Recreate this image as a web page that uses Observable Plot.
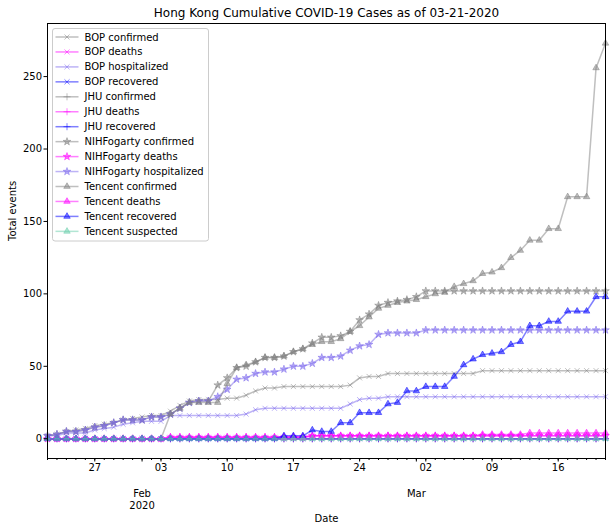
<!DOCTYPE html>
<html><head><meta charset="utf-8">
<script src="https://cdn.jsdelivr.net/npm/d3@7"></script>
<script src="https://cdn.jsdelivr.net/npm/@observablehq/plot@0.6"></script>
<style>
body{margin:0;background:#fff;}
svg{font-family:"DejaVu Sans",sans-serif;}
</style>
</head><body><div id="chart"></div>
<script>
// ---- data (day 0 = 2020-01-22 ... day 59 = 2020-03-21) ----
const startDate = "2020-01-22";
const titleText = "Hong Kong Cumulative COVID-19 Cases as of 03-21-2020";
const yLabel = "Total events";
const xLabel = "Date";
const yTicks = [0, 50, 100, 150, 200, 250];
const weekTickDates = ["2020-01-27","2020-02-03","2020-02-10","2020-02-17","2020-02-24","2020-03-02","2020-03-09","2020-03-16"];
const monthTickDates = ["2020-02-01","2020-03-01"];
const monthTickLabels = ["Feb\n2020","Mar"];

const bopConfirmed = [2,3,5,6,7,9,10,11,13,14, 15,16,16,19,23,26,27,27,27,28, 28,30,33,35,35,36,36,36,36,36, 36,36,37,42,43,43,45,45,45,45, 45,45,45,45,45,45,47,47,47,47, 47,47,47,47,47,47,47,47,47,47];
const bopDeaths = [0,0,0,0,0,0,0,0,0,0, 0,0,0,1,1,1,1,1,1,1, 1,1,1,1,1,1,1,1,2,2, 2,2,2,2,2,2,2,2,2,2, 2,2,2,2,2,2,2,2,2,2, 2,2,2,2,2,2,2,2,2,2];
const bopHospitalized = [2,2,4,4,4,6,7,8,10,11, 12,12,12,16,16,16,16,16,16,16, 16,17,20,21,21,21,21,21,21,21, 21,21,24,27,28,28,29,29,29,29, 29,29,29,29,29,29,29,29,29,29, 29,29,29,29,29,29,29,29,29,29];
const bopRecovered = [0,0,0,0,0,0,0,0,0,0, 0,0,0,0,0,0,0,0,0,0, 0,0,0,0,0,0,0,0,0,0, 0,0,0,0,0,0,0,0,0,0, 0,0,0,0,0,0,0,0,0,0, 0,0,0,0,0,0,0,0,0,0];
const jhuConfirmed = [0,0,0,0,0,0,0,0,0,0, 0,0,0,0,0,0,0,0,0,0, 0,0,0,0,0,0,0,0,0,0, 0,0,0,0,0,0,0,0,0,0, 0,0,0,0,0,0,0,0,0,0, 0,0,0,0,0,0,0,0,0,0];
const jhuDeaths = [0,0,0,0,0,0,0,0,0,0, 0,0,0,0,0,0,0,0,0,0, 0,0,0,0,0,0,0,0,0,0, 0,0,0,0,0,0,0,0,0,0, 0,0,0,0,0,0,0,0,0,0, 0,0,0,0,0,0,0,0,0,0];
const jhuRecovered = [0,0,0,0,0,0,0,0,0,0, 0,0,0,0,0,0,0,0,0,0, 0,0,0,0,0,0,0,0,0,0, 0,0,0,0,0,0,0,0,0,0, 0,0,0,0,0,0,0,0,0,0, 0,0,0,0,0,0,0,0,0,0];
const nihConfirmed = [2,3,5,5,6,8,9,11,13,13, 13,15,15,17,21,25,26,26,37,42, 49,50,53,56,56,57,60,62,66,70, 70,71,74,82,86,92,94,95,96,98, 102,102,102,102,102,102,102,102,102,102, 102,102,102,102,102,102,102,102,102,102];
const nihDeaths = [0,0,0,0,0,0,0,0,0,0, 0,0,0,1,1,1,1,1,1,1, 1,1,1,1,1,1,1,1,2,2, 2,2,2,2,2,2,2,2,2,2, 2,2,2,2,2,2,2,2,2,2, 2,2,2,2,2,2,2,2,2,2];
const nihHospitalized = [2,3,5,5,6,8,9,11,13,13, 13,15,15,17,21,25,26,26,29,34, 41,42,45,46,46,48,50,50,52,56, 56,57,61,64,65,72,73,73,73,73, 75,75,75,75,75,75,75,75,75,75, 75,75,75,75,75,75,75,75,75,75];
const tencentConfirmed = [0,0,0,0,0,0,0,0,0,0, 0,0,0,17,21,25,25,25,25,38, 49,51,53,56,56,57,60,62,65,67, 67,69,74,78,84,90,92,94,95,96, 98,100,101,105,107,109,114,115,118,125, 130,137,137,145,145,167,167,167,256,273];
const tencentDeaths = [0,0,0,0,0,0,0,0,0,0, 0,0,0,1,1,1,1,1,1,1, 1,1,1,1,1,1,1,1,2,2, 2,2,2,2,2,2,2,2,2,2, 2,2,2,2,2,2,3,3,3,3, 3,4,4,4,4,4,4,4,4,4];
const tencentRecovered = [0,0,0,0,0,0,0,0,0,0, 0,0,0,0,0,0,0,0,0,0, 0,0,0,0,0,2,2,2,6,5, 5,11,11,18,18,18,24,25,33,33, 36,36,36,43,51,55,58,59,60,65, 67,78,78,81,81,88,88,88,98,98];
const tencentSuspected = [0,0,0,0,0,0,0,0,0,0, 0,0,0,0,0,0,0,0,0,0, 0,0,0,0,0,0,0,0,0,0, 0,0,0,0,0,0,0,0,0,0, 0,0,0,0,0,0,0,0,0,0, 0,0,0,0,0,0,0,0,0,0];

const seriesNames = ["BOP confirmed","BOP deaths","BOP hospitalized","BOP recovered","JHU confirmed","JHU deaths","JHU recovered","NIHFogarty confirmed","NIHFogarty deaths","NIHFogarty hospitalized","Tencent confirmed","Tencent deaths","Tencent recovered","Tencent suspected"];
const seriesValues = [bopConfirmed,bopDeaths,bopHospitalized,bopRecovered,jhuConfirmed,jhuDeaths,jhuRecovered,nihConfirmed,nihDeaths,nihHospitalized,tencentConfirmed,tencentDeaths,tencentRecovered,tencentSuspected];

// ---- styles ----
const metricColor = {confirmed:"gray", deaths:"magenta", hospitalized:"mediumslateblue", recovered:"blue", suspected:"mediumaquamarine"};
const sourceSymbol = {BOP:"times", JHU:"plus", NIHFogarty:"star", Tencent:"triangle"};
const alpha = 0.5;
const R = 2.4;

const parse = d3.utcParse("%Y-%m-%d");
const t0 = parse(startDate);
const series = seriesNames.map((name, k) => {
  const [src, metric] = name.split(" ");
  return {
    name, color: metricColor[metric], symbol: sourceSymbol[src],
    data: seriesValues[k].map((v, i) => ({date: d3.utcDay.offset(t0, i), value: v}))
  };
});
const nDays = bopConfirmed.length;
const t1 = d3.utcDay.offset(t0, nDays - 1);
const dayTicks = d3.utcDay.range(t0, d3.utcDay.offset(t1, 1));
const weekTicks = weekTickDates.map(parse);
const months = monthTickDates.map((d, i) => ({date: parse(d), label: monthTickLabels[i]}));

const isStrokeSymbol = s => s === "times" || s === "plus";
const marks = [];
for (const s of series) {
  marks.push(Plot.line(s.data, {x: "date", y: "value", stroke: s.color, strokeOpacity: alpha, strokeWidth: 1.5}));
  if (isStrokeSymbol(s.symbol)) {
    marks.push(Plot.dot(s.data, {x: "date", y: "value", symbol: s.symbol, r: R, stroke: s.color, strokeOpacity: alpha, strokeWidth: 1, fill: "none"}));
  } else {
    marks.push(Plot.dot(s.data, {x: "date", y: "value", symbol: s.symbol, r: R, fill: s.color, fillOpacity: alpha, stroke: s.color, strokeOpacity: alpha, strokeWidth: 1}));
  }
}

const yMax = d3.max(seriesValues.flat());
const pad = yMax * 0.05;

const chart = Plot.plot({
  width: 612, height: 531,
  marginTop: 23, marginBottom: 73, marginLeft: 47, marginRight: 7,
  style: {fontFamily: "DejaVu Sans, sans-serif", fontSize: "10px", background: "white", color: "black", overflow: "visible"},
  x: {type: "utc", domain: [t0, t1]},
  y: {domain: [-pad, yMax + pad]},
  marks: [
    ...marks,
    Plot.frame({stroke: "black", strokeWidth: 1}),
    Plot.axisY({ticks: yTicks, tickSize: 3.5, tickPadding: 2, tickFormat: d => String(d), label: null, fontSize: 10}),
    Plot.axisX({ticks: dayTicks, tickSize: 2, tickFormat: () => "", label: null}),
    Plot.axisX({ticks: weekTicks, tickSize: 3.5, tickPadding: 2, tickFormat: d3.utcFormat("%d"), label: null, fontSize: 10}),
    Plot.axisX({ticks: months.map(m => m.date), tickSize: 3.5, tickFormat: () => "", label: null}),
    Plot.text(months, {x: "date", text: "label", frameAnchor: "bottom", dy: 30, lineAnchor: "top", lineHeight: 1.2, fontSize: 10}),
    Plot.text([titleText], {frameAnchor: "top", dy: -10, fontSize: 12, lineAnchor: "middle"}),
    Plot.text([xLabel], {frameAnchor: "bottom", dy: 56, lineAnchor: "top", fontSize: 10}),
    Plot.text([yLabel], {frameAnchor: "left", dx: -35, rotate: -90, fontSize: 10})
  ]
});
document.getElementById("chart").appendChild(chart);

// ---- legend (drawn into the same SVG) ----
const svg = d3.select(chart);
const lg = svg.append("g").attr("transform", "translate(52.5,28.5)");
const rowH = 14.95;
lg.append("rect").attr("width", 156).attr("height", 212.5).attr("rx", 2.5)
  .attr("fill", "white").attr("fill-opacity", 0.8).attr("stroke", "#cccccc").attr("stroke-width", 1);
const symMap = {times: d3.symbolTimes, plus: d3.symbolPlus, star: d3.symbolStar, triangle: d3.symbolTriangle};
series.forEach((s, i) => {
  const y = 8.5 + i * rowH;
  const g = lg.append("g").attr("transform", `translate(0,${y})`);
  g.append("line").attr("x1", 3).attr("x2", 26).attr("y1", 0).attr("y2", 0)
    .attr("stroke", s.color).attr("stroke-opacity", alpha).attr("stroke-width", 1.5);
  const p = g.append("path").attr("transform", "translate(14.5,0)")
    .attr("d", d3.symbol(symMap[s.symbol], Math.PI * R * R)());
  if (isStrokeSymbol(s.symbol)) p.attr("fill", "none").attr("stroke", s.color).attr("stroke-opacity", alpha);
  else p.attr("fill", s.color).attr("fill-opacity", alpha).attr("stroke", s.color).attr("stroke-opacity", alpha);
  g.append("text").attr("x", 32).attr("y", 0).attr("dy", "0.35em")
    .attr("text-anchor", "start").attr("font-size", 10).attr("fill", "black").text(s.name);
});
</script>
</body></html>
